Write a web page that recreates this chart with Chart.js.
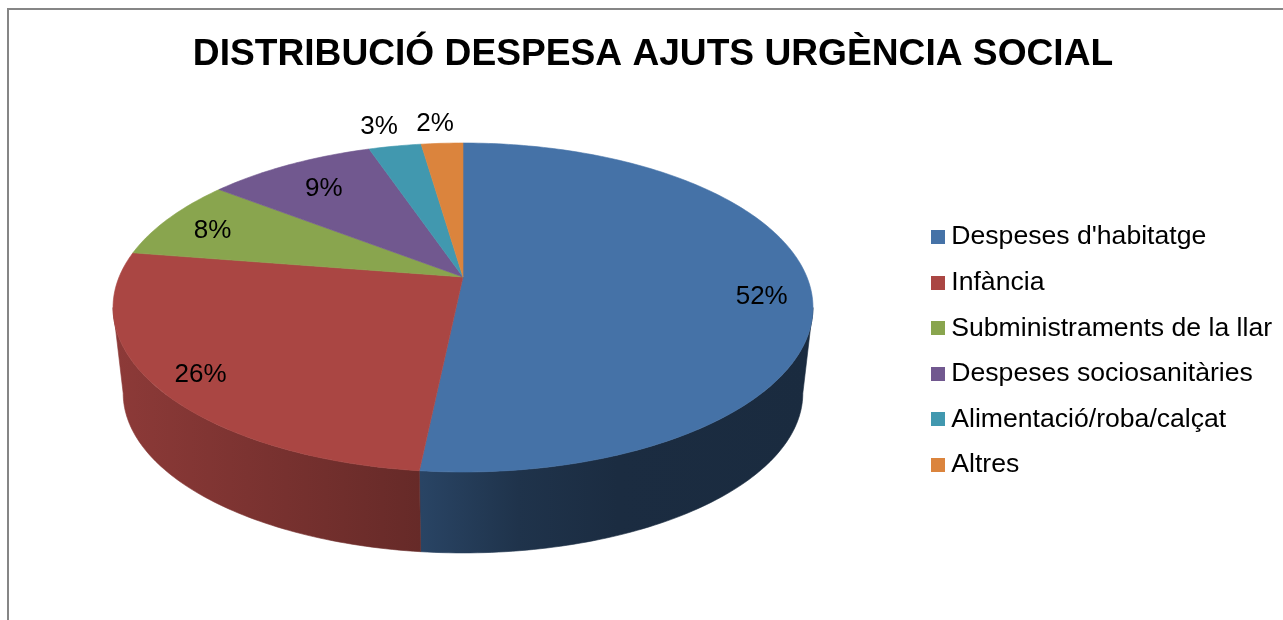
<!DOCTYPE html>
<html><head><meta charset="utf-8">
<style>html,body{margin:0;padding:0;background:#fff;overflow:hidden}#w{width:1283px;height:620px}canvas{display:block}</style>
<script src="https://cdn.jsdelivr.net/npm/chart.js@4"></script></head>
<body><div id="w"><canvas id="c" width="1283" height="620"></canvas></div>
<script>
const titleText = "DISTRIBUCIÓ DESPESA AJUTS URGÈNCIA SOCIAL";
const categories = ["Despeses d'habitatge","Infància","Subministraments de la llar","Despeses sociosanitàries","Alimentació/roba/calçat","Altres"];
const shares = [51.65,25.85,8.0,9.3,2.9,2.3];
const sliceColors = ["#4572A7","#AA4643","#89A54E","#71588F","#4198AF","#DB843D"];
const labelRadius = [0.858,0.876,0.837,0.78,1.2,1.196];
const labelTurn = [4.3,-0.9,-0.7,0,-0.8,-0.6];

// perspective view of the pie disc
const VIEW = {cx:463, cy:277, a:343.9, b:158.85, k:0.1854, baseScale:0.971, baseCy:363.6};
const project = (deg, r=1, base=false) => {
  const t = deg*Math.PI/180, u = r*Math.sin(t), v = -r*Math.cos(t), w = 1 - VIEW.k*v;
  const s = base ? VIEW.baseScale : 1, y0 = base ? VIEW.baseCy : VIEW.cy;
  return [VIEW.cx + s*VIEW.a*u/w, y0 + s*VIEW.b*v/w];
};
const fromTop = a => (a*180/Math.PI + 90);
const trace = (ctx, from, to, base) => {
  const n = Math.max(2, Math.ceil(Math.abs(to-from)));
  for (let i=0;i<=n;i++){ const p = project(from+(to-from)*i/n,1,base); ctx.lineTo(p[0],p[1]); }
};
const shade = (hex,f) => {
  const n=parseInt(hex.slice(1),16);
  return `rgb(${Math.round((n>>16)*f)},${Math.round(((n>>8)&255)*f)},${Math.round((n&255)*f)})`;
};
const wallStops = [[0,.83],[.44,.6],[.58,.45],[.72,.39],[1,.38]];
const VIS = [100.7,259.3];

const pie3d = {
  id:'pie3d',
  beforeDraw(chart){
    const c=chart.ctx; c.save(); c.fillStyle='#fff'; c.fillRect(0,0,chart.width,chart.height);
    c.strokeStyle='#868686'; c.lineWidth=2; c.beginPath(); c.moveTo(8,620); c.lineTo(8,9); c.lineTo(1283,9); c.stroke(); c.restore();
  },
  afterLayout(chart){
    const l=chart.legend, X=918, Y=41;
    const w=l.width,h=l.height; l.left=X; l.right=X+w; l.top=Y; l.bottom=Y+h;
  },
  beforeDatasetDraw(chart,args){
    const ctx=chart.ctx, arcs=chart.getDatasetMeta(args.index).data;
    ctx.save();
    arcs.forEach((arc,i)=>{
      const s=fromTop(arc.startAngle), e=fromTop(arc.endAngle), col=sliceColors[i];
      const a=Math.max(s,VIS[0]), b=Math.min(e,VIS[1]);
      if(b>a){
        const g=ctx.createLinearGradient(113,0,813,0);
        wallStops.forEach(([p,f])=>g.addColorStop(p,shade(col,f)));
        ctx.beginPath(); trace(ctx,a,b,false); trace(ctx,b,a,true); ctx.closePath();
        ctx.fillStyle=g; ctx.fill(); ctx.strokeStyle=g; ctx.lineWidth=.6; ctx.stroke();
      }
    });
    arcs.forEach((arc,i)=>{
      const s=fromTop(arc.startAngle), e=fromTop(arc.endAngle);
      ctx.beginPath(); ctx.moveTo(VIEW.cx,VIEW.cy); trace(ctx,s,e,false); ctx.closePath();
      ctx.fillStyle=sliceColors[i]; ctx.fill(); ctx.strokeStyle=sliceColors[i]; ctx.lineWidth=.6; ctx.stroke();
    });
    ctx.restore();
    return false;
  },
  afterDraw(chart){
    const ctx=chart.ctx, arcs=chart.getDatasetMeta(0).data, total=shares.reduce((x,y)=>x+y,0);
    ctx.save(); ctx.font='26px "Liberation Sans"'; ctx.fillStyle='#000'; ctx.textAlign='center'; ctx.textBaseline='middle';
    arcs.forEach((arc,i)=>{
      const mid=(fromTop(arc.startAngle)+fromTop(arc.endAngle))/2+labelTurn[i];
      const p=project(mid,labelRadius[i]);
      ctx.fillText(Math.round(shares[i]/total*100)+'%',p[0],p[1]+2);
    });
    ctx.restore();
  }
};
const swatch = col => { const k=document.createElement('canvas'); k.width=14;k.height=14; const x=k.getContext('2d'); x.fillStyle=col; x.fillRect(0,0,14,14); return k; };

new Chart(document.getElementById('c'),{
  type:'pie',
  data:{labels:categories,datasets:[{data:shares,backgroundColor:sliceColors,borderWidth:0}]},
  plugins:[pie3d],
  options:{
    responsive:false,animation:false,
    layout:{padding:{left:28,right:5,top:0,bottom:0}},
    plugins:{
      tooltip:{enabled:false},
      title:{display:true,text:titleText,color:'#000',font:{family:'"Liberation Sans"',size:37.15,weight:'bold',lineHeight:1.2},padding:{top:32,bottom:10}},
      legend:{position:'right',labels:{
        color:'#000',font:{family:'"Liberation Sans"',size:26.6},padding:19,usePointStyle:true,pointStyleWidth:1,boxHeight:14,
        generateLabels:ch=>categories.map((t,i)=>({text:t,fillStyle:sliceColors[i],strokeStyle:sliceColors[i],lineWidth:0,pointStyle:swatch(sliceColors[i]),hidden:false,index:i}))
      }}
    }
  }
});
</script></body></html>
